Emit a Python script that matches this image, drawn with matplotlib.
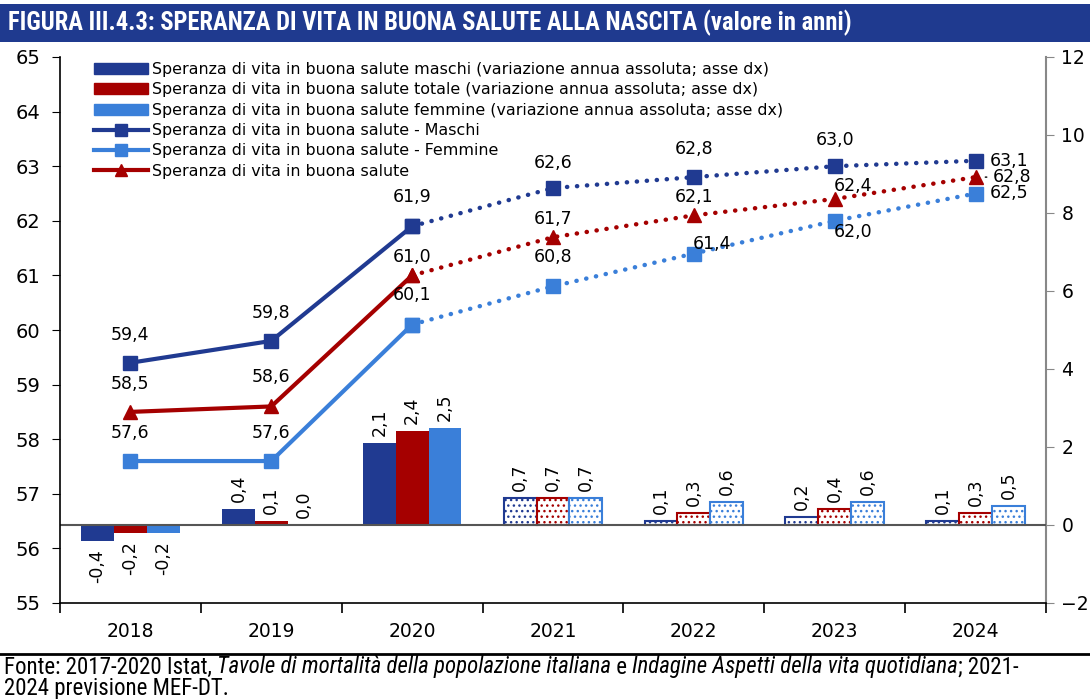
import matplotlib
matplotlib.use("Agg")
import matplotlib.pyplot as plt
import numpy as np
from matplotlib.patches import Patch, Rectangle
from matplotlib.lines import Line2D
from matplotlib.font_manager import fontManager

# ---------------------------------------------------------------------------
# Data
# ---------------------------------------------------------------------------
years = ["2018", "2019", "2020", "2021", "2022", "2023", "2024"]

# level of healthy life expectancy (left axis)
maschi = [59.4, 59.8, 61.9, 62.6, 62.8, 63.0, 63.1]
femmine = [57.6, 57.6, 60.1, 60.8, 61.4, 62.0, 62.5]
totale = [58.5, 58.6, 61.0, 61.7, 62.1, 62.4, 62.8]

# annual absolute change (right axis)
var_maschi = [-0.4, 0.4, 2.1, 0.7, 0.1, 0.2, 0.1]
var_totale = [-0.2, 0.1, 2.4, 0.7, 0.3, 0.4, 0.3]
var_femmine = [-0.2, 0.0, 2.5, 0.7, 0.6, 0.6, 0.5]

FIRST_FORECAST = 3  # 2021 onwards: forecast (dotted / hatched)

C_M = "#203a91"
C_T = "#a50000"
C_F = "#3a7fd9"
TITLE_BG = "#1f3a8f"

# pick a narrow face for title / footer if one is installed
names = {f.name for f in fontManager.ttflist}
NARROW, STRETCH = "DejaVu Sans", "condensed"
for cand in ["Liberation Sans Narrow", "Roboto Condensed", "Open Sans Condensed",
             "DejaVu Sans Condensed", "Noto Sans Condensed"]:
    if cand in names:
        NARROW, STRETCH = cand, "normal"
        break

plt.rcParams["font.family"] = ["DejaVu Sans"]

fig = plt.figure(figsize=(10.9, 6.99), dpi=100)
ax = fig.add_axes([60 / 1090, 1 - 603 / 699, (1046 - 60) / 1090, (603 - 57) / 699])
ax2 = ax.twinx()
ax.set_zorder(ax2.get_zorder() + 1)
ax.patch.set_visible(False)

x = np.arange(len(years))
w = 0.233

# --- bars (right axis) ------------------------------------------------------
for vals, col, off in [(var_maschi, C_M, -w), (var_totale, C_T, 0), (var_femmine, C_F, w)]:
    for i, v in enumerate(vals):
        if i < FIRST_FORECAST:
            ax2.bar(x[i] + off, v, w, color=col, edgecolor="none", zorder=2)
        else:
            ax2.bar(x[i] + off, v, w, facecolor="white", edgecolor=col,
                    hatch="...", linewidth=1.5, zorder=2)
        lbl = f"{v:.1f}".replace(".", ",")
        if v < 0:
            ax2.annotate(lbl, (x[i] + off, v), xytext=(0, -6), textcoords="offset points",
                         rotation=90, ha="center", va="top", fontsize=12.5)
        else:
            ax2.annotate(lbl, (x[i] + off, v), xytext=(0, 5), textcoords="offset points",
                         rotation=90, ha="center", va="bottom", fontsize=12.5)

ax2.axhline(0, color="#555555", lw=1.5, zorder=3)
ax2.set_ylim(-2, 12)
ax2.set_yticks(np.arange(-2, 13, 2))
ax2.tick_params(axis="y", labelsize=13.5, length=6, color="#888888", pad=5)
ax2.spines["right"].set_color("#888888")
ax2.spines["right"].set_linewidth(1.5)
for s in ["top", "left", "bottom"]:
    ax2.spines[s].set_visible(False)

# --- lines (left axis) ------------------------------------------------------
dotted = (0, (0.05, 2.2))
series = [(maschi, C_M, "s"), (femmine, C_F, "s"), (totale, C_T, "^")]
for vals, col, mk in series:
    ax.plot(x[:FIRST_FORECAST], vals[:FIRST_FORECAST], color=col, lw=3, marker=mk,
            ms=10, zorder=4)
    ax.plot(x[FIRST_FORECAST - 1:], vals[FIRST_FORECAST - 1:], color=col, lw=3.2,
            ls=dotted, dash_capstyle="round", marker=mk, ms=10, zorder=4)

# label offsets in points
up = (0, 20)
lab_offsets = {
    "m": [up, up, (0, 21), (0, 18), (0, 20), (0, 19), (24, 0)],
    "t": [(0, 20), (0, 21), (0, 13), (0, 13), (0, 13), (13, 9), (26, 0)],
    "f": [(0, 20), (0, 20), (0, 21), (0, 21), (13, 7), (13, -8), (24, 0)],
}
for key, vals in [("m", maschi), ("t", totale), ("f", femmine)]:
    for i, v in enumerate(vals):
        dx, dy = lab_offsets[key][i]
        kw = {}
        if key == "t" and i == len(vals) - 1:
            kw["arrowprops"] = dict(arrowstyle="-", color="black", lw=1,
                                    shrinkA=2, shrinkB=7)
        ax.annotate(f"{v:.1f}".replace(".", ","), (x[i], v), xytext=(dx, dy),
                    textcoords="offset points", ha="center", va="center",
                    fontsize=12.5, zorder=6, **kw)

ax.set_ylim(55, 65)
ax.set_yticks(np.arange(55, 66, 1))
ax.set_xlim(-0.5, len(years) - 0.5)
ax.set_xticks(np.arange(-0.5, len(years)), labels=[""] * (len(years) + 1))
ax.set_xticks(x, labels=years, minor=True)
ax.tick_params(axis="x", which="major", length=7, width=1.2)
ax.tick_params(axis="x", which="minor", length=0, labelsize=13.5, pad=14)
ax.tick_params(axis="y", labelsize=14, length=6, pad=8)
for s in ["top", "right"]:
    ax.spines[s].set_visible(False)
ax.spines["left"].set_linewidth(1.2)
ax.spines["bottom"].set_linewidth(1.2)

# --- legend -----------------------------------------------------------------
handles = [
    Patch(color=C_M, label="Speranza di vita in buona salute maschi (variazione annua assoluta; asse dx)"),
    Patch(color=C_T, label="Speranza di vita in buona salute totale (variazione annua assoluta; asse dx)"),
    Patch(color=C_F, label="Speranza di vita in buona salute femmine (variazione annua assoluta; asse dx)"),
    Line2D([], [], color=C_M, lw=3, marker="s", ms=9, label="Speranza di vita in buona salute - Maschi"),
    Line2D([], [], color=C_F, lw=3, marker="s", ms=9, label="Speranza di vita in buona salute - Femmine"),
    Line2D([], [], color=C_T, lw=3, marker="^", ms=9, label="Speranza di vita in buona salute"),
]
ax.legend(handles=handles, loc="upper left", bbox_to_anchor=(86 / 1090, 1 - 54 / 699),
          bbox_transform=fig.transFigure, frameon=False, fontsize=11.4,
          handlelength=3.4, handletextpad=0.25, labelspacing=0.34, borderpad=0)

# --- title bar and footer ---------------------------------------------------
renderer = fig.canvas.get_renderer()


def fit_text(t, target_px):
    # shrink/grow font so the text spans target_px
    bb = t.get_window_extent(renderer=renderer)
    t.set_fontsize(t.get_fontsize() * target_px / bb.width)


fig.patches.append(Rectangle((0, 1 - 42 / 699), 1, 38 / 699, transform=fig.transFigure,
                             facecolor=TITLE_BG, edgecolor="none", zorder=0))
title = fig.text(8 / 1090, 1 - 23 / 699,
                 "FIGURA III.4.3: SPERANZA DI VITA IN BUONA SALUTE ALLA NASCITA (valore in anni)",
                 color="white", fontsize=15, fontweight="bold", family=NARROW,
                 fontstretch=STRETCH, va="center")
fit_text(title, 850)

fig.add_artist(Line2D([0, 1], [1 - 654 / 699] * 2, transform=fig.transFigure,
                      color="black", lw=2))

pieces = [
    ("Fonte: 2017-2020 Istat, ", "normal"),
    ("Tavole di mortalità della popolazione italiana", "italic"),
    (" e ", "normal"),
    ("Indagine Aspetti della vita quotidiana", "italic"),
    ("; 2021-", "normal"),
]
foot_kw = dict(family=NARROW, fontstretch=STRETCH, va="center")
texts = [fig.text(0, 1 - 667 / 699, txt, fontsize=14, style=st, **foot_kw)
         for txt, st in pieces]
total = sum(t.get_window_extent(renderer=renderer).width for t in texts)
fs = min(16.5, 14 * 1080 / total)
xpos = 4 / 1090
for t in texts:
    t.set_fontsize(fs)
    t.set_x(xpos)
    xpos += t.get_window_extent(renderer=renderer).width / fig.bbox.width
fig.text(4 / 1090, 1 - 688 / 699, "2024 previsione MEF-DT.", fontsize=fs, **foot_kw)

fig.savefig("out.png", dpi=100)
